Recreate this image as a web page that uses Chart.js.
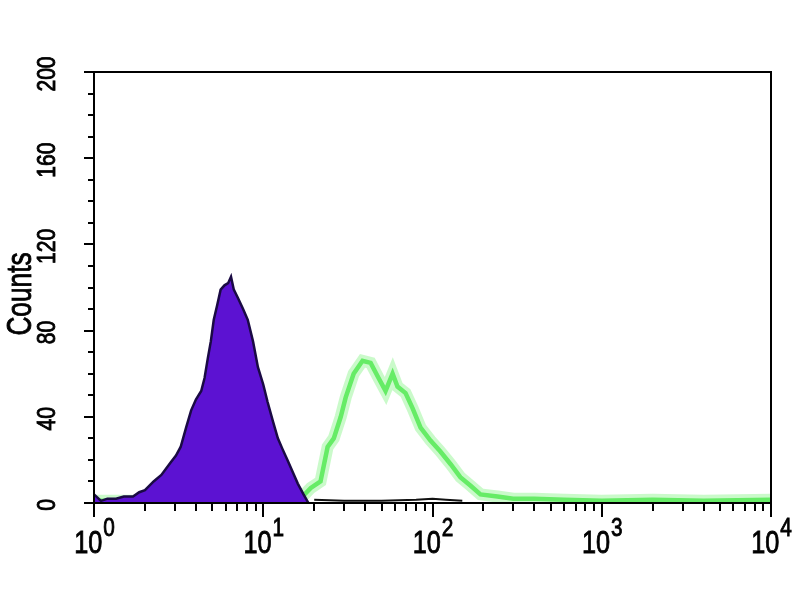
<!DOCTYPE html>
<html>
<head>
<meta charset="utf-8">
<script src="https://cdn.jsdelivr.net/npm/chart.js@4/dist/chart.umd.min.js"></script>
<style>
html, body { margin: 0; padding: 0; background: #fff; }
#chart { display: block; }
</style>
</head>
<body>
<canvas id="chart" width="800" height="600"></canvas>
<script>
'use strict';

// purple (control) histogram, channel value -> counts
let purpleX = [1.0, 1.1, 1.2, 1.35, 1.5, 1.7, 1.85, 2.0, 2.25, 2.5, 2.85, 3.05, 3.25, 3.5, 3.75, 4.0, 4.3, 4.5, 4.7, 4.9,
               5.1, 5.35, 5.6, 5.9, 6.2, 6.45, 6.7, 7.1, 7.6, 8.1, 8.7, 9.3, 10.0, 10.6, 11.4, 12.2, 13.0, 13.9, 15.0, 16.0, 17.3, 18.5];
let purpleY = [4, 1, 2, 2, 3, 3, 5, 6, 10, 13, 19, 22, 26, 35, 43, 48, 52, 58, 67, 75,
               85, 92, 99, 101, 102, 105, 99, 95, 90, 85, 75, 63, 55, 47, 38, 30, 25, 20, 14, 9, 4, 0];

// green (stained) histogram
let greenX = [1.0, 3, 8, 14, 16.6, 19.1, 21.8, 24.0, 26.1, 28.7, 30.7, 34.2, 38.6, 43.1, 48.0, 52.8, 58.1, 62.1, 69.3, 76.2,
              85.0, 97.3, 111, 128, 146, 168, 192, 242, 300, 400, 600, 1000, 2000, 4000, 10000];
let greenY = [1, 1, 1, 1.5, 2, 7, 10, 26, 30, 40, 49, 60, 66, 65, 58, 52, 60, 54, 51, 44,
              35, 29, 24, 18, 12, 8, 4, 3, 2, 2, 1.5, 1, 1.5, 1, 1.5];

// dark baseline under the green peak
let baseX = [20, 30, 50, 80, 100, 120, 150];
let baseY = [1.5, 1, 1, 1.5, 2, 1.5, 1];

let xTicks = [1, 10, 100, 1000, 10000];
let xTickExp = ['0', '1', '2', '3', '4'];
let xMinorSteps = [2, 3, 4, 5, 6, 7, 8, 9];
let yTicks = [0, 40, 80, 120, 160, 200];
let yMinorStep = 10;
let yTitle = 'Counts';

function toPoints(xs, ys) {
    return xs.map((x, i) => ({ x: x, y: ys[i] }));
}

function drawCondensed(ctx, text, x, y, size, sx, rotate) {
    ctx.save();
    ctx.translate(x, y);
    if (rotate) {
        ctx.rotate(-Math.PI / 2);
    }
    ctx.scale(sx, 1);
    ctx.font = size + 'px "Liberation Sans", Arial, sans-serif';
    ctx.fillStyle = '#000';
    ctx.strokeStyle = '#000';
    ctx.lineWidth = 0.9;
    ctx.fillText(text, 0, 0);
    ctx.strokeText(text, 0, 0);
    ctx.restore();
}

let axesPlugin = {
    id: 'axesPlugin',
    afterDatasetsDraw(chart) {
        let ctx = chart.ctx,
            area = chart.chartArea,
            xs = chart.scales.x,
            ys = chart.scales.y;

        ctx.save();
        ctx.strokeStyle = '#000';
        ctx.lineWidth = 2;
        ctx.strokeRect(area.left, area.top, area.right - area.left, area.bottom - area.top);

        // x ticks
        ctx.lineWidth = 2;
        ctx.beginPath();
        xTicks.forEach((v, i) => {
            let px = Math.round(xs.getPixelForValue(v));
            ctx.moveTo(px, area.bottom);
            ctx.lineTo(px, area.bottom + 14);
            if (i < xTicks.length - 1) {
                xMinorSteps.forEach(m => {
                    let mx = Math.round(xs.getPixelForValue(v * m));
                    ctx.moveTo(mx, area.bottom);
                    ctx.lineTo(mx, area.bottom + 8);
                });
            }
        });
        // y ticks
        for (let v = 0; v <= 200; v += yMinorStep) {
            let py = Math.round(ys.getPixelForValue(v));
            let len = yTicks.indexOf(v) >= 0 ? 10 : 6;
            ctx.moveTo(area.left, py);
            ctx.lineTo(area.left - len, py);
        }
        ctx.stroke();

        // x labels: 10 with superscript exponent
        ctx.textBaseline = 'alphabetic';
        ctx.textAlign = 'left';
        xTicks.forEach((v, i) => {
            let px = xs.getPixelForValue(v);
            ctx.font = '32px "Liberation Sans", Arial, sans-serif';
            let w1 = ctx.measureText('10').width * 0.79;
            ctx.font = '26px "Liberation Sans", Arial, sans-serif';
            let w2 = ctx.measureText(xTickExp[i]).width * 0.8;
            let start = px - (w1 + w2) / 2;
            drawCondensed(ctx, '10', start, 553, 32, 0.79, false);
            drawCondensed(ctx, xTickExp[i], start + w1 + 1, 536, 26, 0.8, false);
        });

        // y labels, rotated
        ctx.textAlign = 'center';
        yTicks.forEach(v => {
            let py = ys.getPixelForValue(v) + 2;
            drawCondensed(ctx, String(v), 55, py, 26, 0.81, true);
        });
        drawCondensed(ctx, yTitle, 31, 294, 35, 0.75, true);
        ctx.restore();
    }
};

function buildChart() {
    let ctx = document.getElementById('chart').getContext('2d');

    return new Chart(ctx, {
        type: 'line',
        data: {
            datasets: [
                {
                    data: toPoints(purpleX, purpleY),
                    borderColor: '#1a0a44',
                    borderWidth: 2.5,
                    backgroundColor: '#5c12d2',
                    fill: 'origin',
                    pointRadius: 0,
                    tension: 0
                },
                {
                    data: toPoints(baseX, baseY),
                    borderColor: '#111',
                    borderWidth: 2,
                    fill: false,
                    pointRadius: 0,
                    tension: 0
                },
                {
                    data: toPoints(greenX, greenY),
                    borderColor: 'rgba(150, 245, 150, 0.5)',
                    borderWidth: 12,
                    fill: false,
                    pointRadius: 0,
                    tension: 0
                },
                {
                    data: toPoints(greenX, greenY),
                    borderColor: '#36e236',
                    borderWidth: 4.5,
                    fill: false,
                    pointRadius: 0,
                    tension: 0
                }
            ]
        },
        options: {
            responsive: false,
            animation: false,
            devicePixelRatio: 1,
            layout: { padding: { left: 94, top: 72, right: 29, bottom: 97 } },
            plugins: {
                legend: { display: false },
                tooltip: { enabled: false }
            },
            scales: {
                x: { type: 'logarithmic', min: 1, max: 10000, display: false },
                y: { type: 'linear', min: 0, max: 200, display: false }
            }
        },
        plugins: [axesPlugin]
    });
}

buildChart();
</script>
</body>
</html>
